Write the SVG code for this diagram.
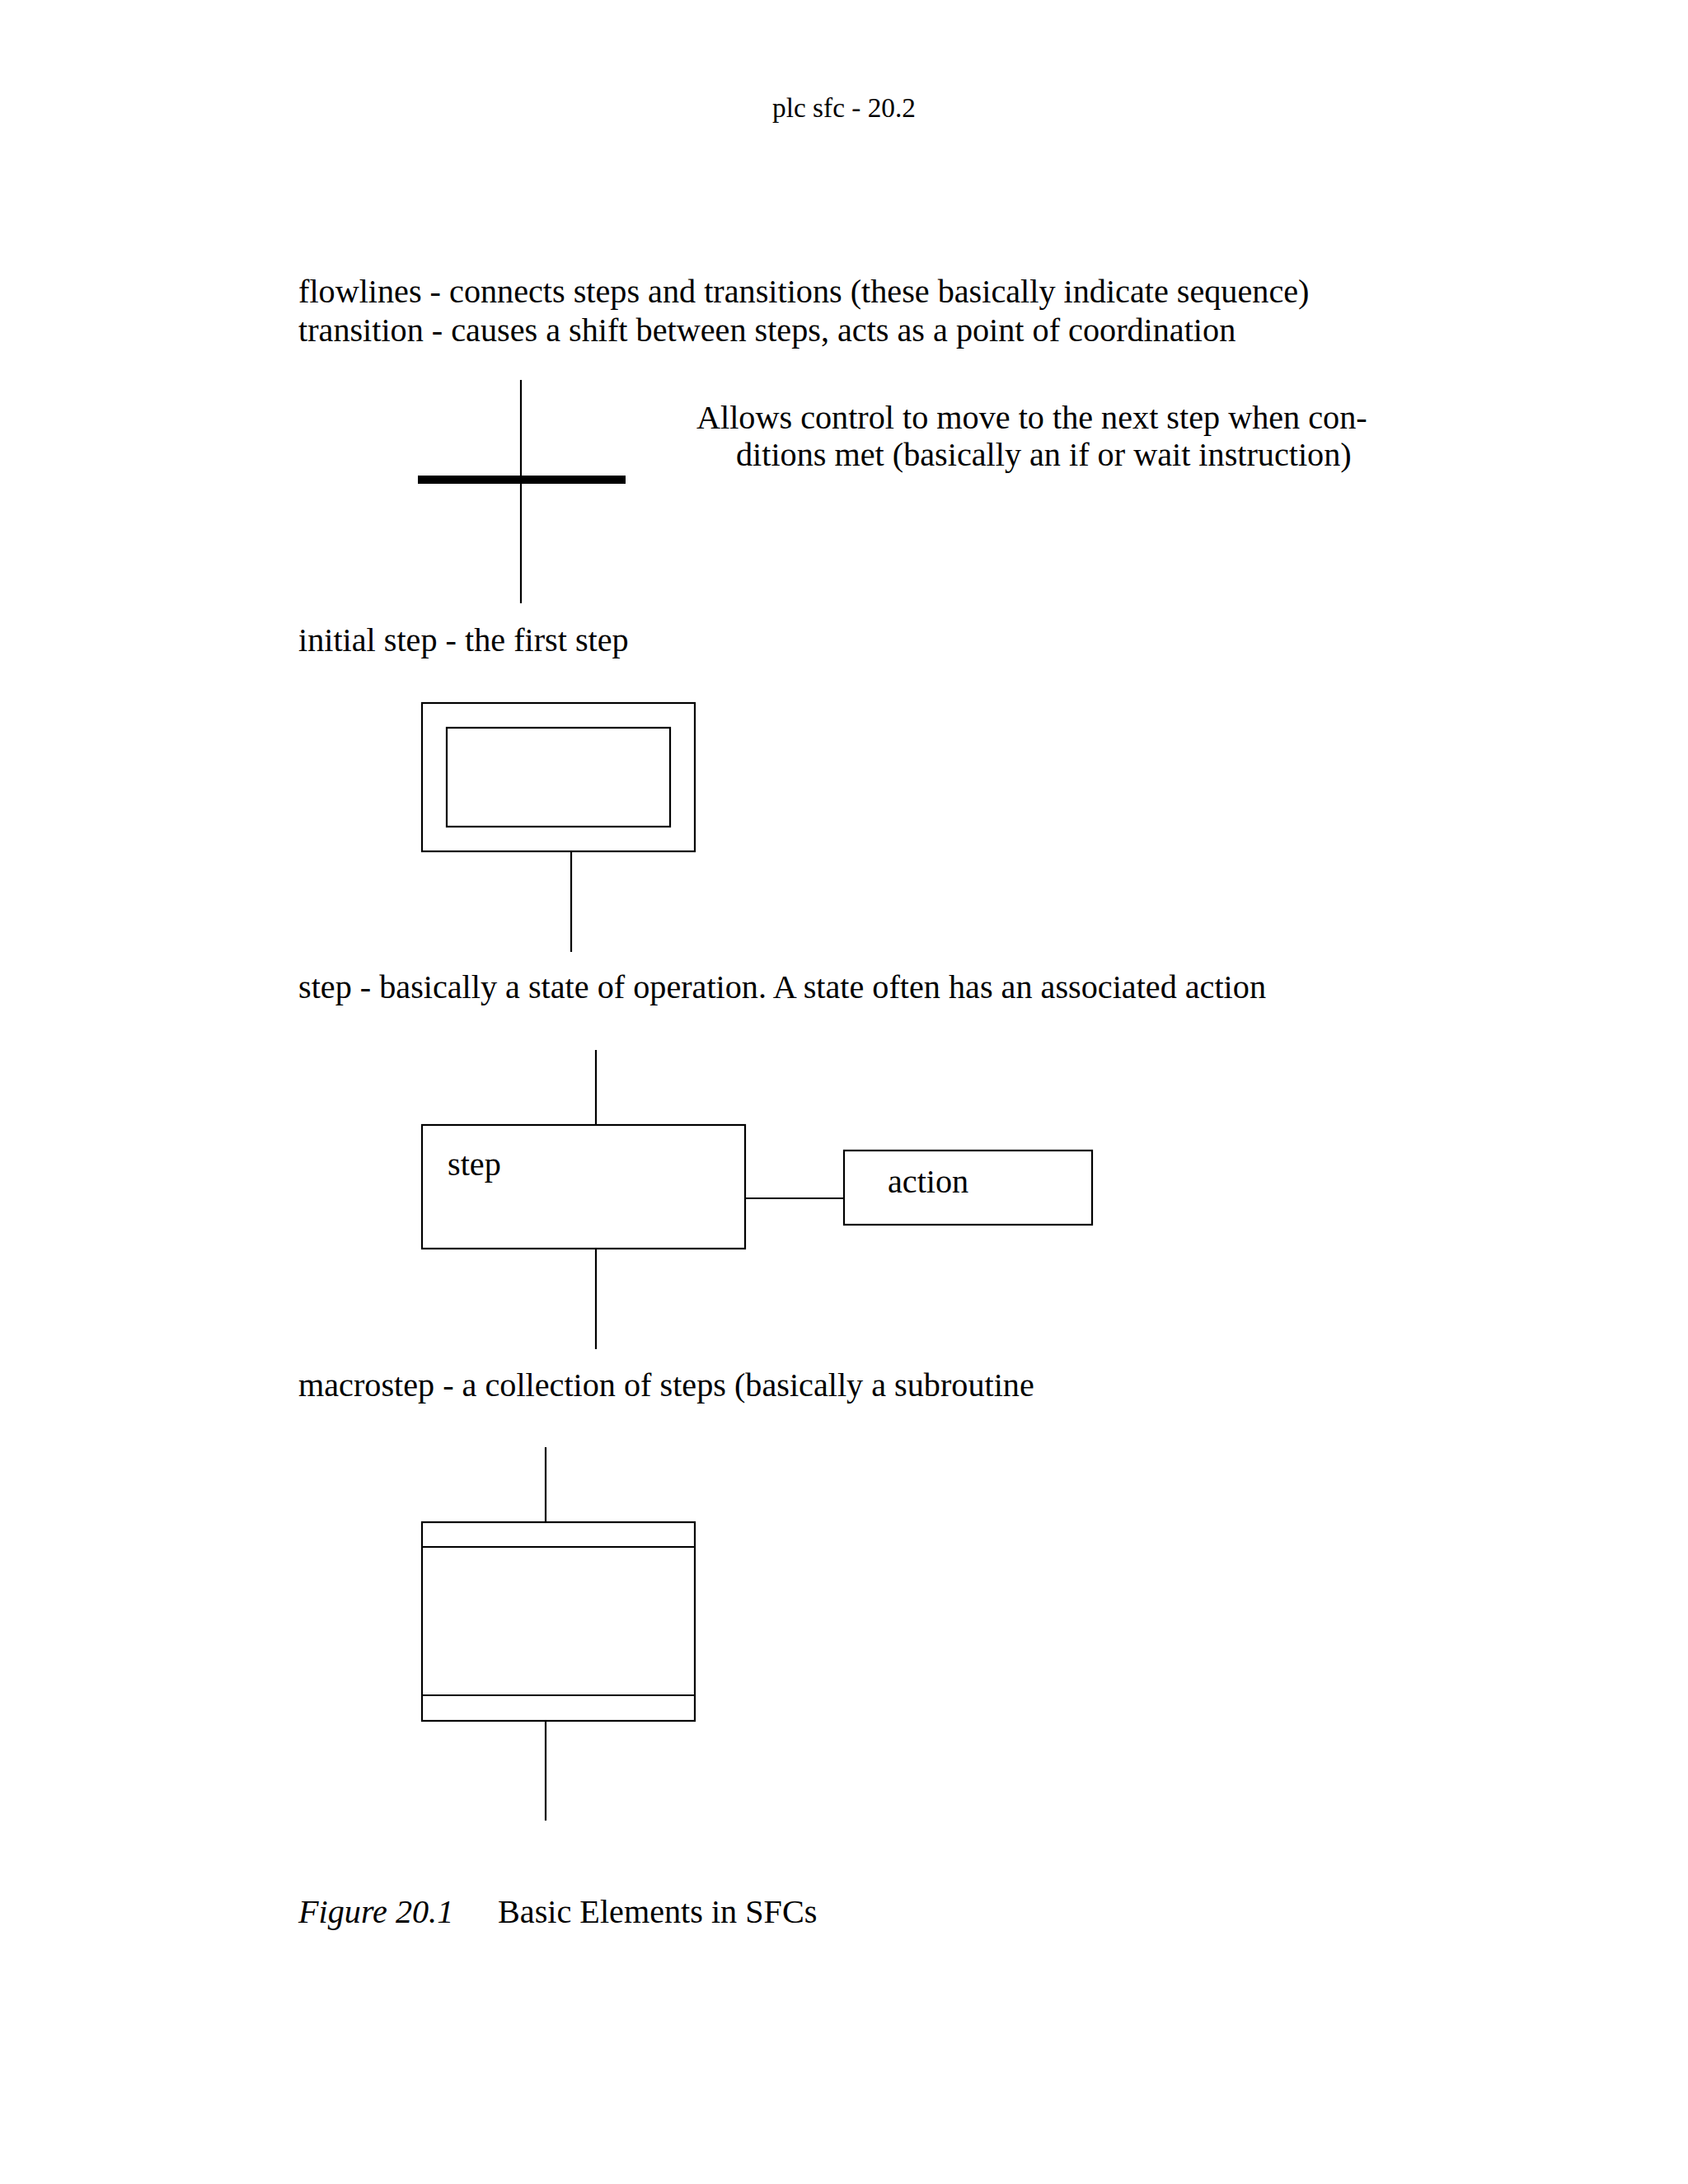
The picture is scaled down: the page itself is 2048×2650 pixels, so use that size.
<svg xmlns="http://www.w3.org/2000/svg" width="2048" height="2650" viewBox="0 0 2048 2650">
<style>
text{font-family:"Liberation Serif","Times New Roman",serif;fill:#000}
.t{font-size:40.2px}
.h{font-size:33.3px}
.b{fill:none;stroke:#000;stroke-width:2.2}
.l{stroke:#000;stroke-width:2.2;fill:none}
</style>
<rect width="2048" height="2650" fill="#fff"/>
<text class="h" x="1024" y="142" text-anchor="middle">plc sfc - 20.2</text>
<text class="t" x="362" y="367">flowlines - connects steps and transitions (these basically indicate sequence)</text>
<text class="t" x="362" y="414">transition - causes a shift between steps, acts as a point of coordination</text>
<g id="transition">
<line class="l" x1="632" y1="461" x2="632" y2="732"/>
<rect x="507" y="577" width="252" height="10" fill="#000"/>
</g>
<text class="t" x="845" y="520">Allows control to move to the next step when con-</text>
<text class="t" x="893" y="565">ditions met (basically an if or wait instruction)</text>
<text class="t" x="362" y="790">initial step - the first step</text>
<g id="initial-step">
<rect class="b" x="512" y="853" width="331" height="180"/>
<rect class="b" x="542" y="883" width="271" height="120"/>
</g>
<text class="t" x="362" y="1211">step - basically a state of operation. A state often has an associated action</text>
<g id="step">
<rect class="b" x="512" y="1365" width="392" height="150"/>
<text class="t" x="543" y="1426">step</text>
</g>
<g id="action">
<rect class="b" x="1024" y="1396" width="301" height="90"/>
<text class="t" x="1077" y="1447">action</text>
</g>
<text class="t" x="362" y="1694">macrostep - a collection of steps (basically a subroutine</text>
<g id="macrostep">
<rect class="b" x="512" y="1847" width="331" height="241"/>
<line class="l" x1="512" y1="1877" x2="843" y2="1877"/>
<line class="l" x1="512" y1="2057" x2="843" y2="2057"/>
</g>
<g id="connectors">
<line class="l" x1="693" y1="1033" x2="693" y2="1155"/>
<line class="l" x1="723" y1="1274" x2="723" y2="1365"/>
<line class="l" x1="723" y1="1515" x2="723" y2="1637"/>
<line class="l" x1="904" y1="1454" x2="1024" y2="1454"/>
<line class="l" x1="662" y1="1756" x2="662" y2="1847"/>
<line class="l" x1="662" y1="2088" x2="662" y2="2209"/>
</g>
<text class="t" x="362" y="2333"><tspan font-style="italic">Figure 20.1</tspan></text>
<text class="t" x="604" y="2333">Basic Elements in SFCs</text>
</svg>
